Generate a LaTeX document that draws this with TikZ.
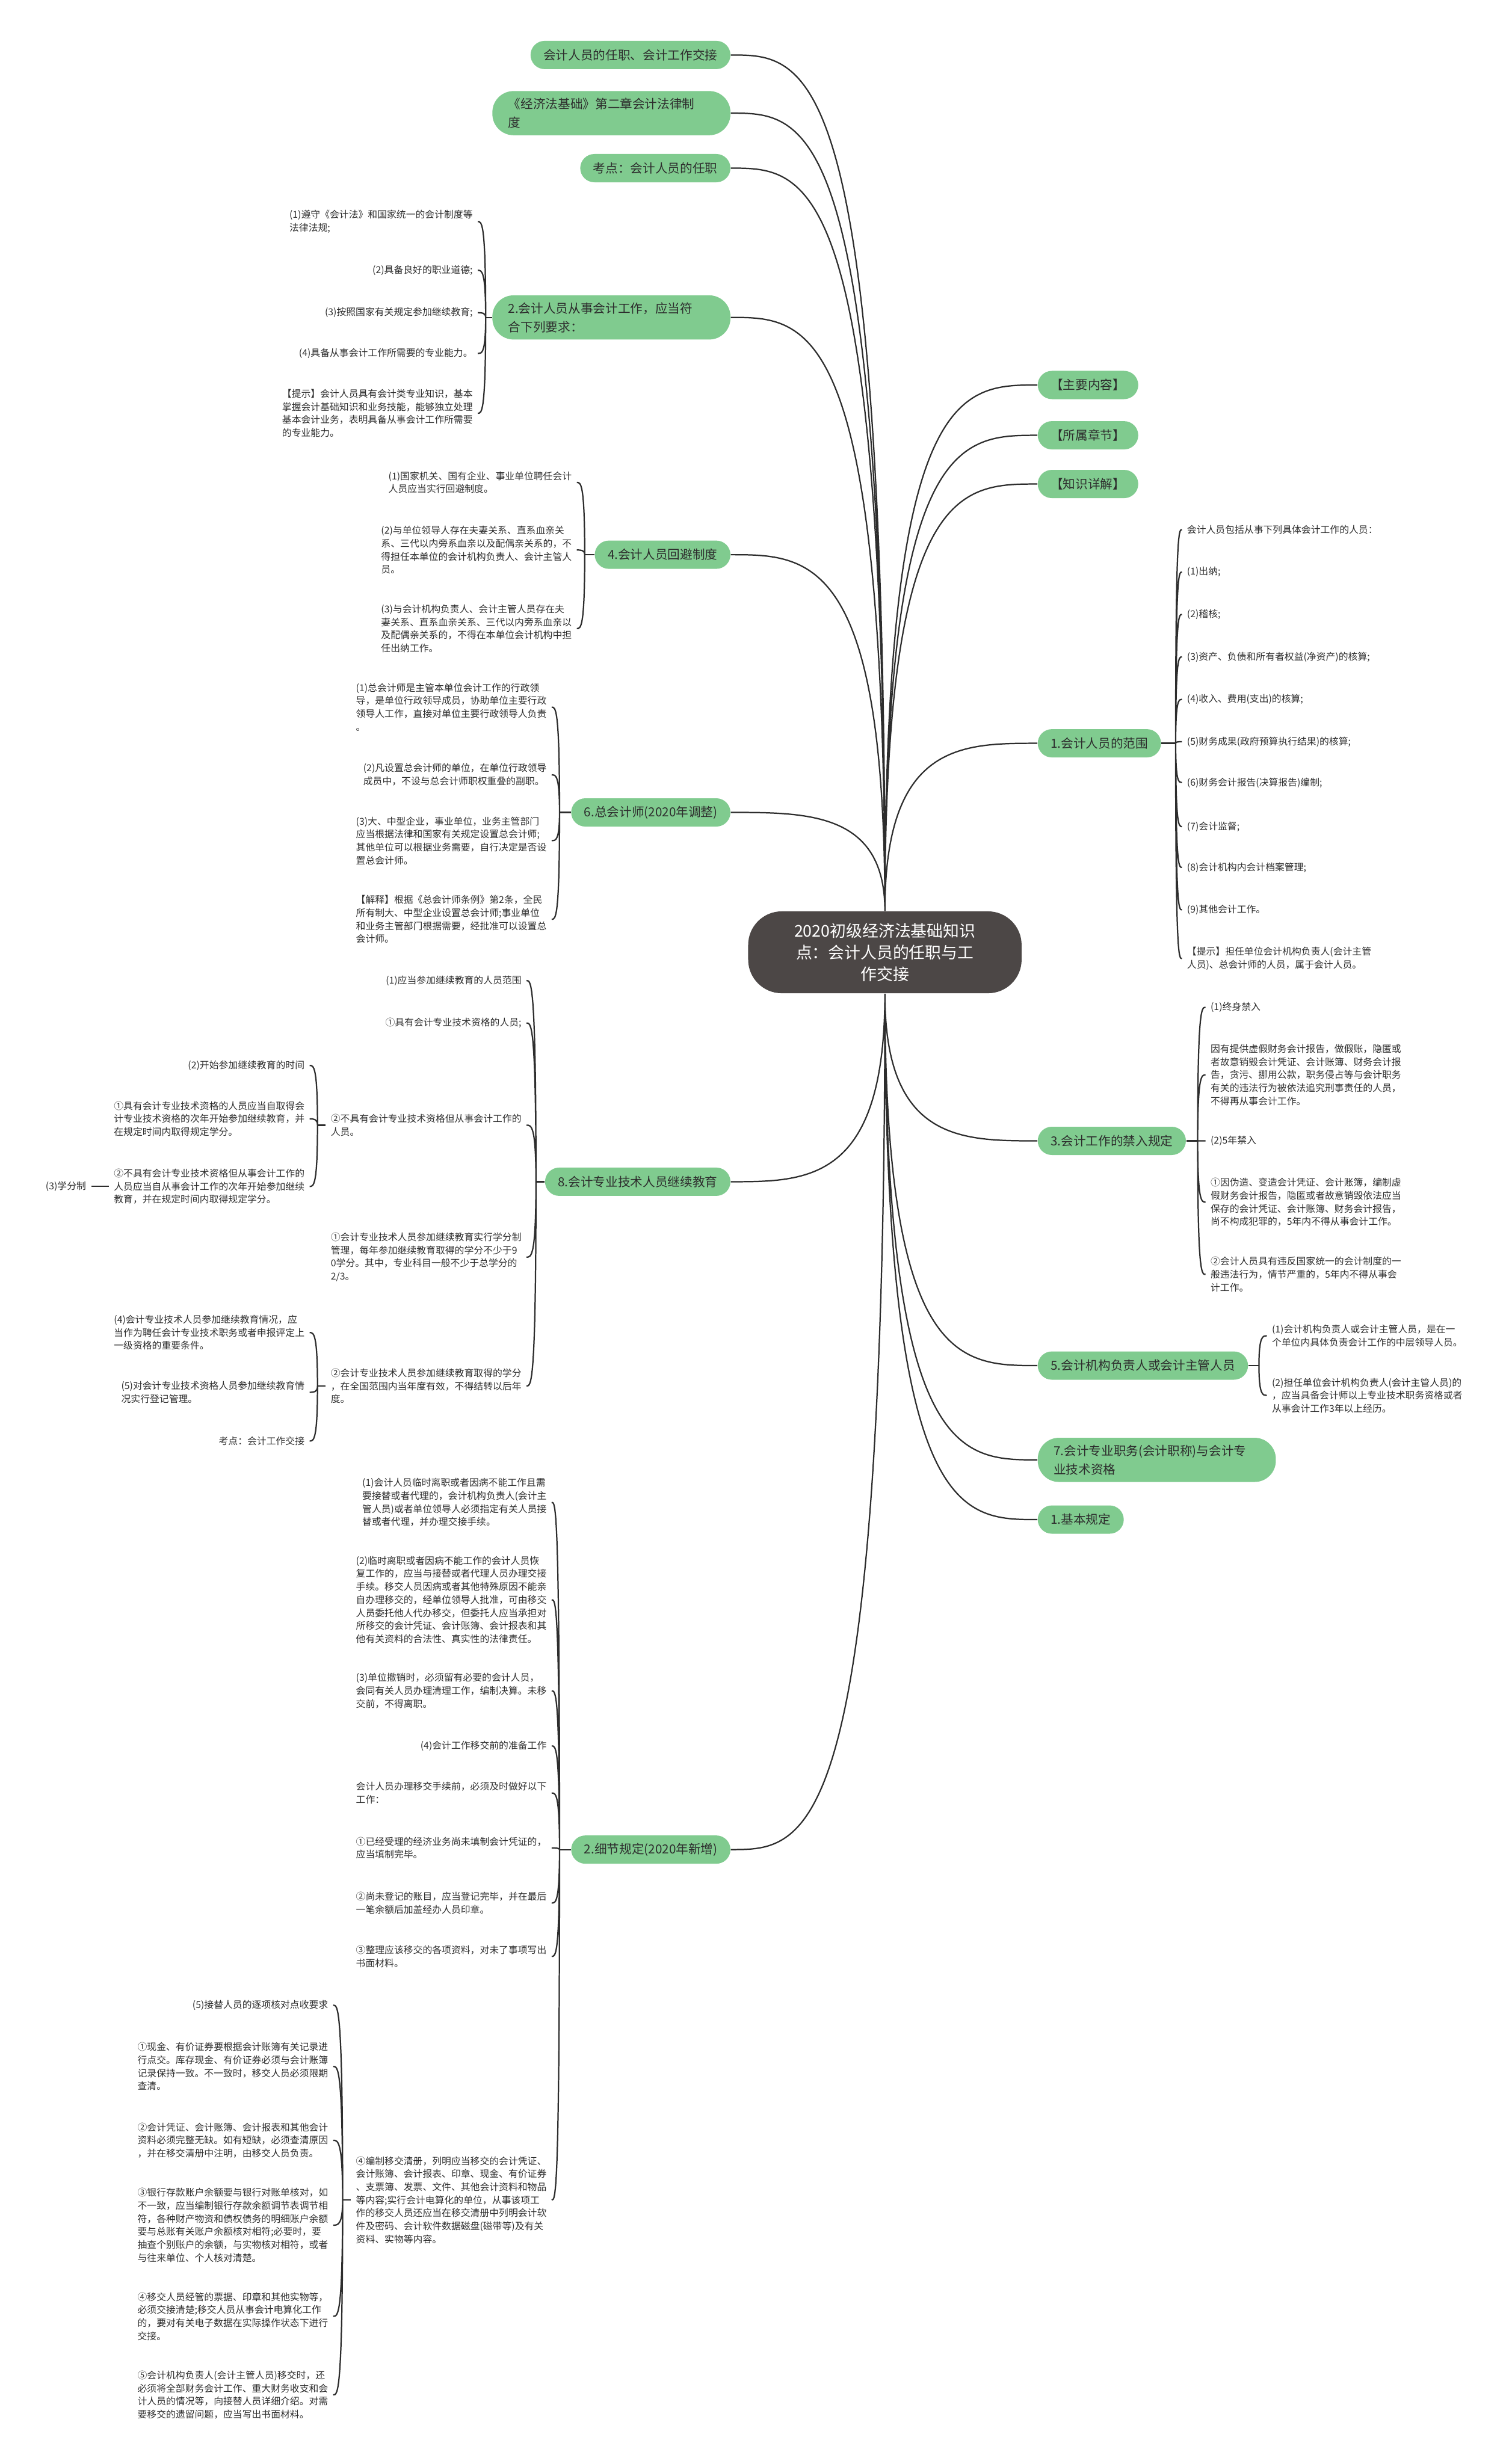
\documentclass[tikz,border=0pt]{standalone}
\usepackage{fontspec}
\setmainfont{Noto Sans CJK SC}
\usetikzlibrary{calc}
\definecolor{mgreen}{RGB}{128,203,143}
\definecolor{rootgray}{RGB}{76,71,70}
\definecolor{txt}{RGB}{45,45,45}
\definecolor{linegray}{RGB}{45,45,45}

\begin{document}
\begin{tikzpicture}[
  x=0.026667cm, y=0.026667cm,
  root/.style={fill=rootgray, text=white, rounded corners=0.57cm, minimum width=4.64cm,
               minimum height=1.39cm, align=center, font=\fontsize{7.8}{10.5}\selectfont},
  mnode/.style={fill=mgreen, text=txt, rounded corners=0.24cm, minimum height=0.48cm,
                inner xsep=0.22cm, inner ysep=0pt, font=\fontsize{6}{9}\selectfont},
  mnode2/.style={mnode, rounded corners=0.36cm, minimum height=0.75cm, text width=3.5cm,
                 align=left, inner xsep=0.27cm},
  leaf/.style={font=\fontsize{4.6}{6.3}\selectfont, text=txt, align=left,
               inner xsep=0.08cm, inner ysep=0.5pt},
  link/.style={draw=linegray, line width=0.65pt},
  branch/.style={to path={let \p1=(\tikztostart), \p2=(\tikztotarget) in
      .. controls (\x1,\y2) and ({0.5*\x1+0.5*\x2},\y2) .. (\tikztotarget)}},
]
  \useasboundingbox[fill=white] (0,0) rectangle (960,-1568);

  \node[root] (root) at (563,-606) {2020初级经济法基础知识\\点：会计人员的任职与工\\作交接};

  \node[mnode, anchor=east] (jiaojie) at (465,-35) {会计人员的任职、会计工作交接};
  \node[mnode2, anchor=east] (zhangjie) at (465,-72) {《经济法基础》第二章会计法律制\\度};
  \node[mnode, anchor=east] (kaodian) at (465,-107) {考点：会计人员的任职};
  \node[mnode2, anchor=east] (yaoqiu) at (465,-202) {2.会计人员从事会计工作，应当符\\合下列要求：};
  \node[mnode, anchor=east] (huibi) at (465,-353) {4.会计人员回避制度};
  \node[mnode, anchor=east] (zkjs) at (465,-517) {6.总会计师(2020年调整)};
  \node[mnode, anchor=east] (jxjy) at (465,-752) {8.会计专业技术人员继续教育};
  \node[mnode, anchor=east] (xijie) at (465,-1177) {2.细节规定(2020年新增)};

  \node[mnode, anchor=west] (zhuyao) at (660,-245) {【主要内容】};
  \node[mnode, anchor=west] (suoshu) at (660,-277) {【所属章节】};
  \node[mnode, anchor=west] (xiangjie) at (660,-308) {【知识详解】};
  \node[mnode, anchor=west] (fanwei) at (660,-473) {1.会计人员的范围};
  \node[mnode, anchor=west] (jinru) at (660,-726) {3.会计工作的禁入规定};
  \node[mnode, anchor=west] (fuzeren) at (660,-869) {5.会计机构负责人或会计主管人员};
  \node[mnode2, anchor=west] (zhicheng) at (660,-929) {7.会计专业职务(会计职称)与会计专\\业技术资格};
  \node[mnode, anchor=west] (jiben) at (660,-967) {1.基本规定};

  \draw[link] (root.north) to[branch] (jiaojie.east) (root.north) to[branch] (zhangjie.east)
    (root.north) to[branch] (kaodian.east) (root.north) to[branch] (yaoqiu.east)
    (root.north) to[branch] (huibi.east) (root.north) to[branch] (zkjs.east)
    (root.north) to[branch] (zhuyao.west) (root.north) to[branch] (suoshu.west)
    (root.north) to[branch] (xiangjie.west) (root.north) to[branch] (fanwei.west);
  \draw[link] (root.south) to[branch] (jxjy.east) (root.south) to[branch] (xijie.east)
    (root.south) to[branch] (jinru.west) (root.south) to[branch] (fuzeren.west)
    (root.south) to[branch] (zhicheng.west) (root.south) to[branch] (jiben.west);

  % 2. 会计人员从事会计工作
  \node[leaf, anchor=east] (yq1) at (304,-141) {(1)遵守《会计法》和国家统一的会计制度等\\法律法规;};
  \node[leaf, anchor=east] (yq2) at (304,-172) {(2)具备良好的职业道德;};
  \node[leaf, anchor=east] (yq3) at (304,-199) {(3)按照国家有关规定参加继续教育;};
  \node[leaf, anchor=east] (yq4) at (304,-225) {(4)具备从事会计工作所需要的专业能力。};
  \node[leaf, anchor=east] (yq5) at (304,-263) {【提示】会计人员具有会计类专业知识，基本\\掌握会计基础知识和业务技能，能够独立处理\\基本会计业务，表明具备从事会计工作所需要\\的专业能力。};
  \draw[link] (yaoqiu.west) -- (yaoqiu.west -| 309,0) coordinate (yaoqiu-s);
  \draw[link] (yaoqiu-s) to[branch] (yq1.east) (yaoqiu-s) to[branch] (yq2.east)
    (yaoqiu-s) to[branch] (yq3.east) (yaoqiu-s) to[branch] (yq4.east) (yaoqiu-s) to[branch] (yq5.east);

  % 4. 回避制度
  \node[leaf, anchor=east] (hb1) at (367,-307) {(1)国家机关、国有企业、事业单位聘任会计\\人员应当实行回避制度。};
  \node[leaf, anchor=east] (hb2) at (367,-350) {(2)与单位领导人存在夫妻关系、直系血亲关\\系、三代以内旁系血亲以及配偶亲关系的，不\\得担任本单位的会计机构负责人、会计主管人\\员。};
  \node[leaf, anchor=east] (hb3) at (367,-400) {(3)与会计机构负责人、会计主管人员存在夫\\妻关系、直系血亲关系、三代以内旁系血亲以\\及配偶亲关系的，不得在本单位会计机构中担\\任出纳工作。};
  \draw[link] (huibi.west) -- (huibi.west -| 372,0) coordinate (huibi-s);
  \draw[link] (huibi-s) to[branch] (hb1.east) (huibi-s) to[branch] (hb2.east) (huibi-s) to[branch] (hb3.east);

  % 6. 总会计师
  \node[leaf, anchor=east] (zk1) at (351,-450) {(1)总会计师是主管本单位会计工作的行政领\\导，是单位行政领导成员，协助单位主要行政\\领导人工作，直接对单位主要行政领导人负责\\。};
  \node[leaf, anchor=east] (zk2) at (351,-493) {(2)凡设置总会计师的单位，在单位行政领导\\成员中，不设与总会计师职权重叠的副职。};
  \node[leaf, anchor=east] (zk3) at (351,-535) {(3)大、中型企业，事业单位，业务主管部门\\应当根据法律和国家有关规定设置总会计师;\\其他单位可以根据业务需要，自行决定是否设\\置总会计师。};
  \node[leaf, anchor=east] (zk4) at (351,-585) {【解释】根据《总会计师条例》第2条，全民\\所有制大、中型企业设置总会计师;事业单位\\和业务主管部门根据需要，经批准可以设置总\\会计师。};
  \draw[link] (zkjs.west) -- (zkjs.west -| 356,0) coordinate (zkjs-s);
  \draw[link] (zkjs-s) to[branch] (zk1.east) (zkjs-s) to[branch] (zk2.east)
    (zkjs-s) to[branch] (zk3.east) (zkjs-s) to[branch] (zk4.east);

  % 8. 继续教育
  \node[leaf, anchor=east] (jx1) at (335,-624) {(1)应当参加继续教育的人员范围};
  \node[leaf, anchor=east] (jx2) at (335,-651) {①具有会计专业技术资格的人员;};
  \node[leaf, anchor=east] (jx3) at (335,-716) {②不具有会计专业技术资格但从事会计工作的\\人员。};
  \node[leaf, anchor=east] (jx4) at (335,-800) {①会计专业技术人员参加继续教育实行学分制\\管理，每年参加继续教育取得的学分不少于9\\0学分。其中，专业科目一般不少于总学分的\\2/3。};
  \node[leaf, anchor=east] (jx5) at (335,-882) {②会计专业技术人员参加继续教育取得的学分\\，在全国范围内当年度有效，不得结转以后年\\度。};
  \draw[link] (jxjy.west) -- (jxjy.west -| 341,0) coordinate (jxjy-s);
  \draw[link] (jxjy-s) to[branch] (jx1.east) (jxjy-s) to[branch] (jx2.east)
    (jxjy-s) to[branch] (jx3.east) (jxjy-s) to[branch] (jx4.east) (jxjy-s) to[branch] (jx5.east);

  \node[leaf, anchor=east] (sa1) at (197,-678) {(2)开始参加继续教育的时间};
  \node[leaf, anchor=east] (sa2) at (197,-712) {①具有会计专业技术资格的人员应当自取得会\\计专业技术资格的次年开始参加继续教育，并\\在规定时间内取得规定学分。};
  \node[leaf, anchor=east] (sa3) at (197,-755) {②不具有会计专业技术资格但从事会计工作的\\人员应当自从事会计工作的次年开始参加继续\\教育，并在规定时间内取得规定学分。};
  \node[leaf, anchor=east] (xfz) at (58,-755) {(3)学分制};
  \draw[link] (jx3.west) -- (jx3.west -| 202,0) coordinate (jx3-s);
  \draw[link] (jx3-s) to[branch] (sa1.east) (jx3-s) to[branch] (sa2.east) (jx3-s) to[branch] (sa3.east);
  \draw[link] (sa3.west) -- (xfz.east);

  \node[leaf, anchor=east] (sb1) at (197,-848) {(4)会计专业技术人员参加继续教育情况，应\\当作为聘任会计专业技术职务或者申报评定上\\一级资格的重要条件。};
  \node[leaf, anchor=east] (sb2) at (197,-886) {(5)对会计专业技术资格人员参加继续教育情\\况实行登记管理。};
  \node[leaf, anchor=east] (sb3) at (197,-917) {考点：会计工作交接};
  \draw[link] (jx5.west) -- (jx5.west -| 202,0) coordinate (jx5-s);
  \draw[link] (jx5-s) to[branch] (sb1.east) (jx5-s) to[branch] (sb2.east) (jx5-s) to[branch] (sb3.east);

  % 2. 细节规定
  \node[leaf, anchor=east] (xj1) at (351,-956) {(1)会计人员临时离职或者因病不能工作且需\\要接替或者代理的，会计机构负责人(会计主\\管人员)或者单位领导人必须指定有关人员接\\替或者代理，并办理交接手续。};
  \node[leaf, anchor=east] (xj2) at (351,-1018) {(2)临时离职或者因病不能工作的会计人员恢\\复工作的，应当与接替或者代理人员办理交接\\手续。移交人员因病或者其他特殊原因不能亲\\自办理移交的，经单位领导人批准，可由移交\\人员委托他人代办移交，但委托人应当承担对\\所移交的会计凭证、会计账簿、会计报表和其\\他有关资料的合法性、真实性的法律责任。};
  \node[leaf, anchor=east] (xj3) at (351,-1076) {(3)单位撤销时，必须留有必要的会计人员，\\会同有关人员办理清理工作，编制决算。未移\\交前，不得离职。};
  \node[leaf, anchor=east] (xj4) at (351,-1111) {(4)会计工作移交前的准备工作};
  \node[leaf, anchor=east] (xj5) at (351,-1141) {会计人员办理移交手续前，必须及时做好以下\\工作：};
  \node[leaf, anchor=east] (xj6) at (351,-1176) {①已经受理的经济业务尚未填制会计凭证的，\\应当填制完毕。};
  \node[leaf, anchor=east] (xj7) at (351,-1211) {②尚未登记的账目，应当登记完毕，并在最后\\一笔余额后加盖经办人员印章。};
  \node[leaf, anchor=east] (xj8) at (351,-1245) {③整理应该移交的各项资料，对未了事项写出\\书面材料。};
  \node[leaf, anchor=east] (xj9) at (351,-1400) {④编制移交清册，列明应当移交的会计凭证、\\会计账簿、会计报表、印章、现金、有价证券\\、支票簿、发票、文件、其他会计资料和物品\\等内容;实行会计电算化的单位，从事该项工\\作的移交人员还应当在移交清册中列明会计软\\件及密码、会计软件数据磁盘(磁带等)及有关\\资料、实物等内容。};
  \draw[link] (xijie.west) -- (xijie.west -| 356,0) coordinate (xijie-s);
  \draw[link] (xijie-s) to[branch] (xj1.east) (xijie-s) to[branch] (xj2.east)
    (xijie-s) to[branch] (xj3.east) (xijie-s) to[branch] (xj4.east)
    (xijie-s) to[branch] (xj5.east) (xijie-s) to[branch] (xj6.east)
    (xijie-s) to[branch] (xj7.east) (xijie-s) to[branch] (xj8.east) (xijie-s) to[branch] (xj9.east);

  \node[leaf, anchor=east] (dj1) at (212,-1276) {(5)接替人员的逐项核对点收要求};
  \node[leaf, anchor=east] (dj2) at (212,-1315) {①现金、有价证券要根据会计账簿有关记录进\\行点交。库存现金、有价证券必须与会计账簿\\记录保持一致。不一致时，移交人员必须限期\\查清。};
  \node[leaf, anchor=east] (dj3) at (212,-1362) {②会计凭证、会计账簿、会计报表和其他会计\\资料必须完整无缺。如有短缺，必须查清原因\\，并在移交清册中注明，由移交人员负责。};
  \node[leaf, anchor=east] (dj4) at (212,-1416) {③银行存款账户余额要与银行对账单核对，如\\不一致，应当编制银行存款余额调节表调节相\\符，各种财产物资和债权债务的明细账户余额\\要与总账有关账户余额核对相符;必要时，要\\抽查个别账户的余额，与实物核对相符，或者\\与往来单位、个人核对清楚。};
  \node[leaf, anchor=east] (dj5) at (212,-1474) {④移交人员经管的票据、印章和其他实物等，\\必须交接清楚;移交人员从事会计电算化工作\\的，要对有关电子数据在实际操作状态下进行\\交接。};
  \node[leaf, anchor=east] (dj6) at (212,-1524) {⑤会计机构负责人(会计主管人员)移交时，还\\必须将全部财务会计工作、重大财务收支和会\\计人员的情况等，向接替人员详细介绍。对需\\要移交的遗留问题，应当写出书面材料。};
  \draw[link] (xj9.west) -- (xj9.west -| 218,0) coordinate (xj9-s);
  \draw[link] (xj9-s) to[branch] (dj1.east) (xj9-s) to[branch] (dj2.east)
    (xj9-s) to[branch] (dj3.east) (xj9-s) to[branch] (dj4.east)
    (xj9-s) to[branch] (dj5.east) (xj9-s) to[branch] (dj6.east);

  % 1. 会计人员的范围
  \node[leaf, anchor=west] (fw0) at (752,-337) {会计人员包括从事下列具体会计工作的人员：};
  \node[leaf, anchor=west] (fw1) at (752,-364) {(1)出纳;};
  \node[leaf, anchor=west] (fw2) at (752,-391) {(2)稽核;};
  \node[leaf, anchor=west] (fw3) at (752,-418) {(3)资产、负债和所有者权益(净资产)的核算;};
  \node[leaf, anchor=west] (fw4) at (752,-445) {(4)收入、费用(支出)的核算;};
  \node[leaf, anchor=west] (fw5) at (752,-472) {(5)财务成果(政府预算执行结果)的核算;};
  \node[leaf, anchor=west] (fw6) at (752,-498) {(6)财务会计报告(决算报告)编制;};
  \node[leaf, anchor=west] (fw7) at (752,-526) {(7)会计监督;};
  \node[leaf, anchor=west] (fw8) at (752,-552) {(8)会计机构内会计档案管理;};
  \node[leaf, anchor=west] (fw9) at (752,-579) {(9)其他会计工作。};
  \node[leaf, anchor=west] (fw10) at (752,-610) {【提示】担任单位会计机构负责人(会计主管\\人员)、总会计师的人员，属于会计人员。};
  \draw[link] (fanwei.east) -- (fanwei.east -| 748,0) coordinate (fanwei-s);
  \draw[link] (fanwei-s) to[branch] (fw0.west) (fanwei-s) to[branch] (fw1.west)
    (fanwei-s) to[branch] (fw2.west) (fanwei-s) to[branch] (fw3.west)
    (fanwei-s) to[branch] (fw4.west) (fanwei-s) to[branch] (fw5.west)
    (fanwei-s) to[branch] (fw6.west) (fanwei-s) to[branch] (fw7.west)
    (fanwei-s) to[branch] (fw8.west) (fanwei-s) to[branch] (fw9.west) (fanwei-s) to[branch] (fw10.west);

  % 3. 禁入规定
  \node[leaf, anchor=west] (jr1) at (767,-641) {(1)终身禁入};
  \node[leaf, anchor=west] (jr2) at (767,-684) {因有提供虚假财务会计报告，做假账，隐匿或\\者故意销毁会计凭证、会计账簿、财务会计报\\告，贪污、挪用公款，职务侵占等与会计职务\\有关的违法行为被依法追究刑事责任的人员，\\不得再从事会计工作。};
  \node[leaf, anchor=west] (jr3) at (767,-726) {(2)5年禁入};
  \node[leaf, anchor=west] (jr4) at (767,-765) {①因伪造、变造会计凭证、会计账簿，编制虚\\假财务会计报告，隐匿或者故意销毁依法应当\\保存的会计凭证、会计账簿、财务会计报告，\\尚不构成犯罪的，5年内不得从事会计工作。};
  \node[leaf, anchor=west] (jr5) at (767,-811) {②会计人员具有违反国家统一的会计制度的一\\般违法行为，情节严重的，5年内不得从事会\\计工作。};
  \draw[link] (jinru.east) -- (jinru.east -| 762,0) coordinate (jinru-s);
  \draw[link] (jinru-s) to[branch] (jr1.west) (jinru-s) to[branch] (jr2.west)
    (jinru-s) to[branch] (jr3.west) (jinru-s) to[branch] (jr4.west) (jinru-s) to[branch] (jr5.west);

  % 5. 会计机构负责人
  \node[leaf, anchor=west] (fz1) at (806,-850) {(1)会计机构负责人或会计主管人员，是在一\\个单位内具体负责会计工作的中层领导人员。};
  \node[leaf, anchor=west] (fz2) at (806,-888) {(2)担任单位会计机构负责人(会计主管人员)的\\，应当具备会计师以上专业技术职务资格或者\\从事会计工作3年以上经历。};
  \draw[link] (fuzeren.east) -- (fuzeren.east -| 801,0) coordinate (fuzeren-s);
  \draw[link] (fuzeren-s) to[branch] (fz1.west) (fuzeren-s) to[branch] (fz2.west);
\end{tikzpicture}
\end{document}
